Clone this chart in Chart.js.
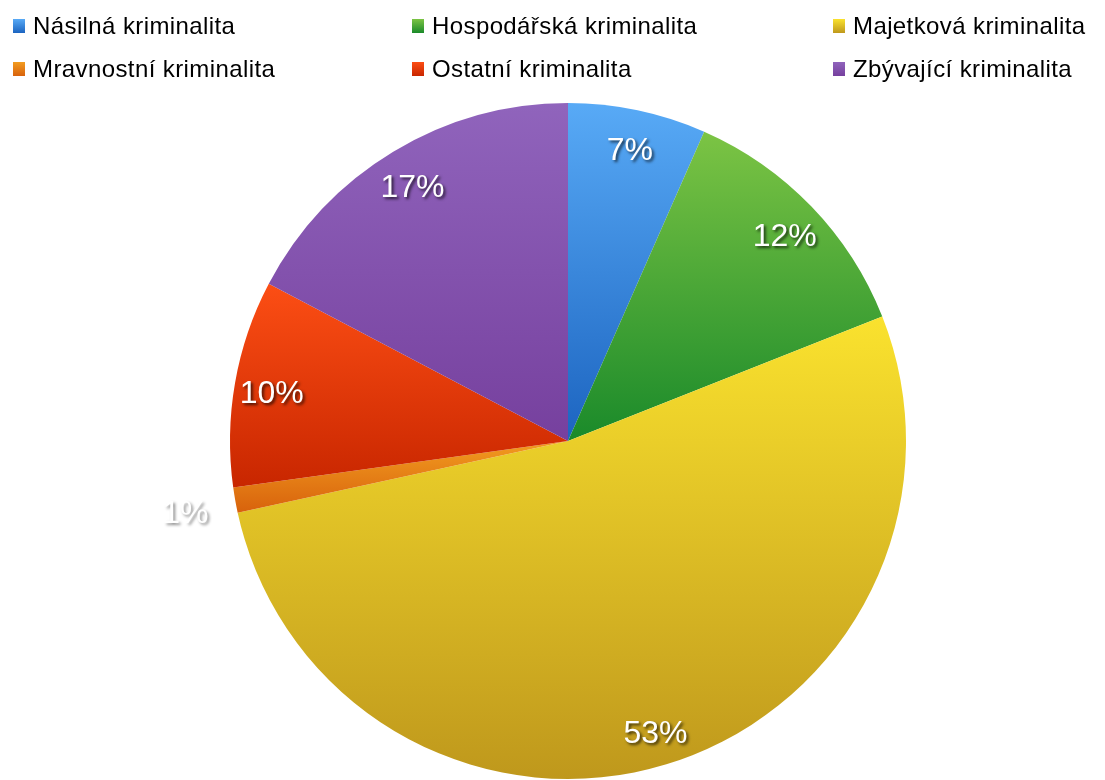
<!DOCTYPE html>
<html>
<head>
<meta charset="utf-8">
<script src="https://cdn.jsdelivr.net/npm/chart.js@4"></script>
<style>
  body { margin: 0; background: #fff; }
  #wrap { position: relative; width: 1105px; height: 780px; }
  #legend { position: absolute; left: 0; top: 0; width: 1105px; height: 100px; font-family: "Liberation Sans", Arial, sans-serif; font-size: 24px; color: #000; }
  .item { position: absolute; white-space: nowrap; line-height: 24px; letter-spacing: 0.4px; }
  .sq { position: absolute; width: 12px; height: 14px; left: -20px; top: 5px; }
</style>
</head>
<body>
<div id="wrap">
  <canvas id="pie" width="1105" height="780"></canvas>
  <div id="legend"></div>
</div>
<script>
const categories = ["Násilná kriminalita", "Hospodářská kriminalita", "Majetková kriminalita",
  "Mravnostní kriminalita", "Ostatní kriminalita", "Zbývající kriminalita"];
const shares = [6.6, 12.4, 52.6, 1.2, 9.9, 17.3];
const topColors = ["#58aaf6", "#7cc444", "#fae22e", "#f29c20", "#fc4e14", "#9064bc"];
const bottomColors = ["#1c64c0", "#1a8a2a", "#bf981c", "#d8620c", "#c82600", "#76409e"];

// legend (html, 3 columns x 2 rows)
const legendPos = [[33, 14], [432, 14], [853, 14], [33, 57], [432, 57], [853, 57]];
const legend = document.getElementById("legend");
categories.forEach((name, i) => {
  const d = document.createElement("div");
  d.className = "item";
  d.style.left = legendPos[i][0] + "px";
  d.style.top = legendPos[i][1] + "px";
  d.innerHTML = '<span class="sq" style="background:linear-gradient(' + topColors[i] + ',' + bottomColors[i] + ')"></span>' + name;
  legend.appendChild(d);
});

const total = shares.reduce((a, b) => a + b, 0);

// vertical gradient spanning each slice's own height
function sliceGradient(context) {
  const chart = context.chart;
  const area = chart.chartArea;
  const i = context.dataIndex;
  if (!area || i === undefined) return topColors[i || 0];
  const cx = (area.left + area.right) / 2;
  const cy = (area.top + area.bottom) / 2;
  const r = Math.min(area.right - area.left, area.bottom - area.top) / 2;
  let before = 0;
  for (let k = 0; k < i; k++) before += shares[k];
  const a0 = -Math.PI / 2 + before / total * 2 * Math.PI;
  const a1 = a0 + shares[i] / total * 2 * Math.PI;
  const ys = [cy];
  for (let s = 0; s <= 40; s++) {
    const a = a0 + (a1 - a0) * s / 40;
    ys.push(cy + r * Math.sin(a));
  }
  const g = chart.ctx.createLinearGradient(0, Math.min(...ys), 0, Math.max(...ys));
  g.addColorStop(0, topColors[i]);
  g.addColorStop(1, bottomColors[i]);
  return g;
}

const percentLabels = {
  id: "percentLabels",
  afterDatasetsDraw(chart) {
    const ctx = chart.ctx;
    const meta = chart.getDatasetMeta(0);
    ctx.save();
    ctx.font = "32px 'Liberation Sans', Arial, sans-serif";
    ctx.textAlign = "center";
    ctx.textBaseline = "middle";
    meta.data.forEach((arc, i) => {
      const mid = (arc.startAngle + arc.endAngle) / 2;
      const small = shares[i] / total < 0.03;
      const d = arc.outerRadius * (small ? 1.15 : 0.89);
      const x = arc.x + Math.cos(mid) * d;
      const y = arc.y + Math.sin(mid) * d + 5;
      ctx.shadowColor = small ? "rgba(0,0,0,0.45)" : "rgba(0,0,0,0.7)";
      ctx.shadowOffsetX = 2;
      ctx.shadowOffsetY = 2;
      ctx.shadowBlur = 3;
      ctx.fillStyle = "#fff";
      ctx.fillText(Math.round(shares[i] / total * 100) + "%", x, y);
    });
    ctx.restore();
  }
};

new Chart(document.getElementById("pie").getContext("2d"), {
  type: "pie",
  data: {
    labels: categories,
    datasets: [{
      data: shares,
      backgroundColor: sliceGradient,
      borderWidth: 0
    }]
  },
  options: {
    responsive: false,
    animation: false,
    layout: { padding: { left: 31, right: 0, top: 103, bottom: 1 } },
    plugins: {
      legend: { display: false },
      tooltip: { enabled: false }
    }
  },
  plugins: [percentLabels]
});
</script>
</body>
</html>
